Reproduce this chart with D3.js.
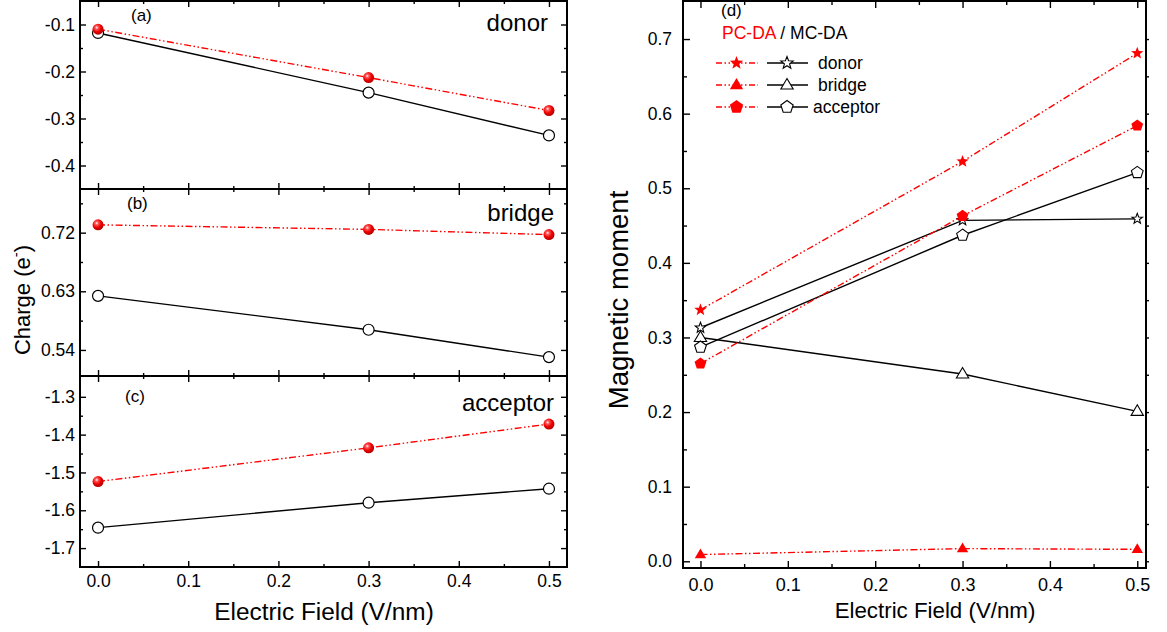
<!DOCTYPE html>
<html>
<head>
<meta charset="utf-8">
<script src="https://cdn.jsdelivr.net/npm/d3@7"></script>
<style>
  body { margin: 0; background: #fff; }
  svg { display: block; font-family: "Liberation Sans", Arial, sans-serif; }
</style>
</head>
<body>
<svg id="chart" width="1167" height="632"></svg>
<script>
// electric field values (V/nm)
const fields = [0, 0.3, 0.5];

// charges, panels (a)-(c): PC-DA (red) and MC-DA (black)
const donorChargePC = [-0.110, -0.213, -0.283];
const donorChargeMC = [-0.118, -0.245, -0.336];
const bridgeChargePC = [0.732, 0.725, 0.717];
const bridgeChargeMC = [0.623, 0.571, 0.529];
const acceptorChargePC = [-1.524, -1.435, -1.372];
const acceptorChargeMC = [-1.646, -1.580, -1.543];

// magnetic moments, panel (d)
const donorMomentPC = [0.337, 0.536, 0.681];
const donorMomentMC = [0.313, 0.457, 0.459];
const bridgeMomentPC = [0.009, 0.017, 0.016];
const bridgeMomentMC = [0.300, 0.251, 0.201];
const acceptorMomentPC = [0.265, 0.463, 0.584];
const acceptorMomentMC = [0.287, 0.437, 0.521];

// tick values
const fieldTicks = [0, 0.1, 0.2, 0.3, 0.4, 0.5];
const fieldMinor = [0.05, 0.15, 0.25, 0.35, 0.45];
const donorTicks = [-0.1, -0.2, -0.3, -0.4];
const donorMinor = [-0.15, -0.25, -0.35];
const bridgeTicks = [0.72, 0.63, 0.54];
const bridgeMinor = [0.765, 0.675, 0.585];
const acceptorTicks = [-1.3, -1.4, -1.5, -1.6, -1.7];
const acceptorMinor = [-1.35, -1.45, -1.55, -1.65];
const momentTicks = [0, 0.1, 0.2, 0.3, 0.4, 0.5, 0.6, 0.7];
const momentMinor = [0.05, 0.15, 0.25, 0.35, 0.45, 0.55, 0.65];

const RED = "#ff0000";
const DASH = "7,2.5,1.5,2.5,1.5,2.5";

const svg = d3.select("#chart");

// shaded red sphere for panels (a)-(c)
const grad = svg.append("defs").append("radialGradient")
    .attr("id", "ball").attr("cx", "38%").attr("cy", "35%").attr("r", "65%");
grad.append("stop").attr("offset", "0%").attr("stop-color", "#ffffff");
grad.append("stop").attr("offset", "22%").attr("stop-color", "#ff5a5a");
grad.append("stop").attr("offset", "60%").attr("stop-color", "#f00000");
grad.append("stop").attr("offset", "100%").attr("stop-color", "#b00000");

// marker shapes
function polyPath(pts) {
    return "M" + pts.map(p => p[0].toFixed(2) + "," + p[1].toFixed(2)).join("L") + "Z";
}
function starPath(r) {
    const pts = [];
    for (let i = 0; i < 10; i++) {
        const a = -Math.PI / 2 + i * Math.PI / 5;
        const rr = i % 2 ? r * 0.42 : r;
        pts.push([rr * Math.cos(a), rr * Math.sin(a)]);
    }
    return polyPath(pts);
}
function trianglePath(r) {
    return polyPath([[0, -r], [r * 0.95, r * 0.62], [-r * 0.95, r * 0.62]]);
}
function pentagonPath(r) {
    const pts = [];
    for (let i = 0; i < 5; i++) {
        const a = -Math.PI / 2 + i * 2 * Math.PI / 5;
        pts.push([r * Math.cos(a), r * Math.sin(a)]);
    }
    return polyPath(pts);
}

function styleAxis(g, size) {
    g.select(".domain").remove();
    g.selectAll(".tick line").attr("stroke", "#000").attr("stroke-width", 1.4);
    g.selectAll(".tick text").attr("fill", "#000").attr("font-size", size)
        .attr("font-family", "Liberation Sans, Arial, sans-serif");
}

// ---------------- left: charge panels ----------------
const xL = d3.scaleLinear().domain([-0.02, 0.52]).range([80, 567]);
const fmt1 = d => d.toFixed(1);
const fmt2 = d => d.toFixed(2);

const panels = [
    { tag: "(a)", name: "donor", pc: donorChargePC, mc: donorChargeMC, domain: [-0.45, -0.05],
      top: 1, bottom: 189, ticks: donorTicks, minor: donorMinor, fmt: fmt1,
      tagX: 131, tagY: 21, nameX: 548, nameY: 31 },
    { tag: "(b)", name: "bridge", pc: bridgeChargePC, mc: bridgeChargeMC, domain: [0.5, 0.787],
      top: 189, bottom: 376, ticks: bridgeTicks, minor: bridgeMinor, fmt: fmt2,
      tagX: 127, tagY: 209, nameX: 554, nameY: 221 },
    { tag: "(c)", name: "acceptor", pc: acceptorChargePC, mc: acceptorChargeMC, domain: [-1.75, -1.245],
      top: 376, bottom: 567, ticks: acceptorTicks, minor: acceptorMinor, fmt: fmt1,
      tagX: 125, tagY: 402, nameX: 554, nameY: 411 }
];

panels.forEach((p, i) => {
    const y = d3.scaleLinear().domain(p.domain).range([p.bottom, p.top]);
    const g = svg.append("g");

    // y axis, left (labels) and right (ticks only)
    g.append("g").attr("transform", `translate(${xL.range()[0]},0)`)
        .call(d3.axisLeft(y).tickValues(p.ticks).tickFormat(p.fmt).tickSize(-6).tickPadding(5))
        .call(s => styleAxis(s, 17.5));
    g.append("g").attr("transform", `translate(${xL.range()[0]},0)`)
        .call(d3.axisLeft(y).tickValues(p.minor).tickFormat("").tickSize(-3))
        .call(s => styleAxis(s, 17.5));
    g.append("g").attr("transform", `translate(${xL.range()[1]},0)`)
        .call(d3.axisRight(y).tickValues(p.ticks).tickFormat("").tickSize(-6))
        .call(s => styleAxis(s, 17.5));
    g.append("g").attr("transform", `translate(${xL.range()[1]},0)`)
        .call(d3.axisRight(y).tickValues(p.minor).tickFormat("").tickSize(-3))
        .call(s => styleAxis(s, 17.5));

    // x axis, bottom and top, inward ticks
    const last = i === panels.length - 1;
    g.append("g").attr("transform", `translate(0,${p.bottom})`)
        .call(d3.axisBottom(xL).tickValues(fieldTicks).tickFormat(last ? fmt1 : "").tickSize(-6).tickPadding(8))
        .call(s => styleAxis(s, 17.5));
    g.append("g").attr("transform", `translate(0,${p.bottom})`)
        .call(d3.axisBottom(xL).tickValues(fieldMinor).tickFormat("").tickSize(-3))
        .call(s => styleAxis(s, 17.5));
    g.append("g").attr("transform", `translate(0,${p.top})`)
        .call(d3.axisTop(xL).tickValues(fieldTicks).tickFormat("").tickSize(-6))
        .call(s => styleAxis(s, 17.5));
    g.append("g").attr("transform", `translate(0,${p.top})`)
        .call(d3.axisTop(xL).tickValues(fieldMinor).tickFormat("").tickSize(-3))
        .call(s => styleAxis(s, 17.5));

    // frame
    g.append("rect")
        .attr("x", xL.range()[0]).attr("y", p.top)
        .attr("width", xL.range()[1] - xL.range()[0]).attr("height", p.bottom - p.top)
        .attr("fill", "none").attr("stroke", "#000").attr("stroke-width", 2);

    const line = d3.line().x((d, k) => xL(fields[k])).y(d => y(d));

    g.append("path").datum(p.mc).attr("d", line)
        .attr("fill", "none").attr("stroke", "#000").attr("stroke-width", 1.4);
    g.append("path").datum(p.pc).attr("d", line)
        .attr("fill", "none").attr("stroke", RED).attr("stroke-width", 1.4)
        .attr("stroke-dasharray", DASH);

    g.selectAll(".mc").data(p.mc).join("circle")
        .attr("cx", (d, k) => xL(fields[k])).attr("cy", d => y(d)).attr("r", 5.5)
        .attr("fill", "#fff").attr("stroke", "#000").attr("stroke-width", 1.2);
    g.selectAll(".pc").data(p.pc).join("circle")
        .attr("cx", (d, k) => xL(fields[k])).attr("cy", d => y(d)).attr("r", 5.5)
        .attr("fill", "url(#ball)");

    g.append("text").attr("x", p.tagX).attr("y", p.tagY)
        .attr("font-size", 17).text(p.tag);
    g.append("text").attr("x", p.nameX).attr("y", p.nameY)
        .attr("font-size", 24).attr("text-anchor", "end").text(p.name);
});

// left axis titles
const chargeLabel = svg.append("text")
    .attr("transform", "translate(30,300) rotate(-90)")
    .attr("text-anchor", "middle").attr("font-size", 22);
chargeLabel.append("tspan").text("Charge (e");
chargeLabel.append("tspan").attr("font-size", 15).attr("dy", -9).text("-");
chargeLabel.append("tspan").attr("dy", 9).text(")");

svg.append("text").attr("x", 324).attr("y", 620)
    .attr("text-anchor", "middle").attr("font-size", 24.4).text("Electric Field (V/nm)");

// ---------------- right: magnetic moment ----------------
const xR = d3.scaleLinear().domain([-0.02, 0.51]).range([683, 1146]);
const yR = d3.scaleLinear().domain([-0.009, 0.751]).range([568, 1]);
const gR = svg.append("g");

gR.append("g").attr("transform", "translate(683,0)")
    .call(d3.axisLeft(yR).tickValues(momentTicks).tickFormat(fmt1).tickSize(-7).tickPadding(11))
    .call(s => styleAxis(s, 17.5));
gR.append("g").attr("transform", "translate(683,0)")
    .call(d3.axisLeft(yR).tickValues(momentMinor).tickFormat("").tickSize(-4))
    .call(s => styleAxis(s, 17.5));
gR.append("g").attr("transform", "translate(1146,0)")
    .call(d3.axisRight(yR).tickValues(momentTicks.concat(momentMinor)).tickFormat("").tickSize(3))
    .call(s => styleAxis(s, 17.5));
gR.append("g").attr("transform", "translate(0,568)")
    .call(d3.axisBottom(xR).tickValues(fieldTicks).tickFormat(fmt1).tickSize(-7).tickPadding(10))
    .call(s => styleAxis(s, 18));
gR.append("g").attr("transform", "translate(0,568)")
    .call(d3.axisBottom(xR).tickValues(fieldMinor).tickFormat("").tickSize(-4))
    .call(s => styleAxis(s, 18));
gR.append("g").attr("transform", "translate(0,1)")
    .call(d3.axisTop(xR).tickValues(fieldTicks).tickFormat("").tickSize(-7))
    .call(s => styleAxis(s, 18));
gR.append("g").attr("transform", "translate(0,1)")
    .call(d3.axisTop(xR).tickValues(fieldMinor).tickFormat("").tickSize(-4))
    .call(s => styleAxis(s, 18));

gR.append("rect").attr("x", 683).attr("y", 1).attr("width", 1146 - 683).attr("height", 567)
    .attr("fill", "none").attr("stroke", "#000").attr("stroke-width", 2);

const momentSeries = [
    { name: "donor", pc: donorMomentPC, mc: donorMomentMC, shape: starPath, rPC: 6.5, rMC: 5.5 },
    { name: "bridge", pc: bridgeMomentPC, mc: bridgeMomentMC, shape: trianglePath, rPC: 6, rMC: 6.5 },
    { name: "acceptor", pc: acceptorMomentPC, mc: acceptorMomentMC, shape: pentagonPath, rPC: 6.2, rMC: 6.2 }
];

const lineR = d3.line().x((d, k) => xR(fields[k])).y(d => yR(d));

momentSeries.forEach(s => {
    gR.append("path").datum(s.mc).attr("d", lineR)
        .attr("fill", "none").attr("stroke", "#000").attr("stroke-width", 1.4);
    gR.append("path").datum(s.pc).attr("d", lineR)
        .attr("fill", "none").attr("stroke", RED).attr("stroke-width", 1.4)
        .attr("stroke-dasharray", DASH);
});
momentSeries.forEach(s => {
    gR.selectAll(null).data(s.mc).join("path")
        .attr("transform", (d, k) => `translate(${xR(fields[k])},${yR(d)})`)
        .attr("d", s.shape(s.rMC))
        .attr("fill", "#fff").attr("stroke", "#000").attr("stroke-width", 1.1);
    gR.selectAll(null).data(s.pc).join("path")
        .attr("transform", (d, k) => `translate(${xR(fields[k])},${yR(d)})`)
        .attr("d", s.shape(s.rPC))
        .attr("fill", RED);
});

// legend
gR.append("text").attr("x", 721).attr("y", 16).attr("font-size", 17).text("(d)");
const head = gR.append("text").attr("x", 722).attr("y", 39).attr("font-size", 17.5);
head.append("tspan").attr("fill", RED).text("PC-DA");
head.append("tspan").attr("fill", "#000").text(" / MC-DA");

const legendY = [63, 85, 107];
const legendTextX = [818, 818, 813];
momentSeries.forEach((s, i) => {
    const ly = legendY[i];
    gR.append("line").attr("x1", 716).attr("x2", 758).attr("y1", ly).attr("y2", ly)
        .attr("stroke", RED).attr("stroke-width", 1.4).attr("stroke-dasharray", "6,2.5,1.5,2.5,1.5,2.5");
    gR.append("path").attr("transform", `translate(736.5,${ly})`)
        .attr("d", s.shape(7)).attr("fill", RED);
    gR.append("line").attr("x1", 767).attr("x2", 808).attr("y1", ly).attr("y2", ly)
        .attr("stroke", "#000").attr("stroke-width", 1.4);
    gR.append("path").attr("transform", `translate(787,${ly})`)
        .attr("d", s.shape(6.5)).attr("fill", "#fff").attr("stroke", "#000").attr("stroke-width", 1.1);
    gR.append("text").attr("x", legendTextX[i]).attr("y", ly + 6)
        .attr("font-size", 17.5).text(s.name);
});

svg.append("text")
    .attr("transform", "translate(628,300) rotate(-90)")
    .attr("text-anchor", "middle").attr("font-size", 27.5).text("Magnetic moment");
svg.append("text").attr("x", 935).attr("y", 618)
    .attr("text-anchor", "middle").attr("font-size", 22.3).text("Electric Field (V/nm)");
</script>
</body>
</html>
